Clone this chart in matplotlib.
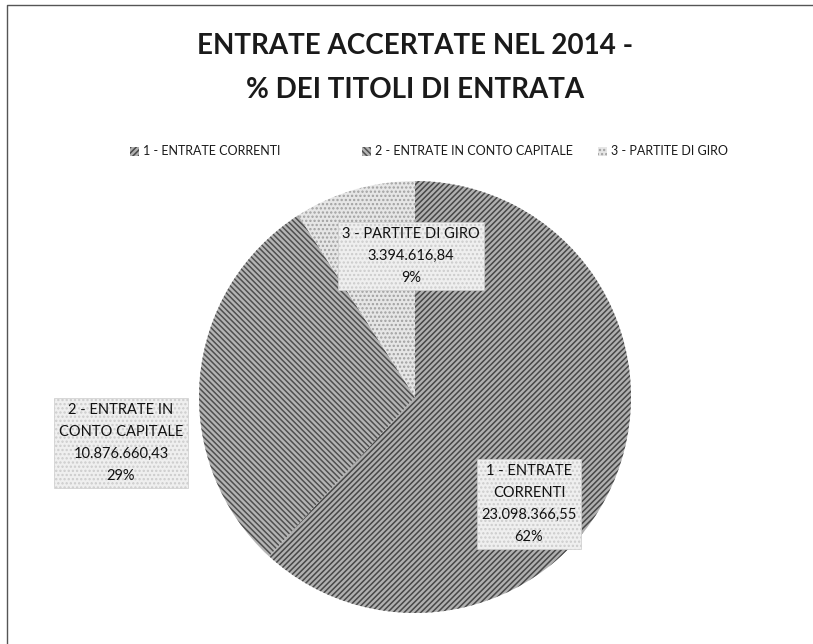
import numpy as np
import matplotlib
matplotlib.use('Agg')
import matplotlib.pyplot as plt
from matplotlib.patches import Rectangle

plt.rcParams['font.family'] = ['Lato', 'DejaVu Sans']
plt.rcParams['hatch.linewidth'] = 1.1

TITLE = 'ENTRATE ACCERTATE NEL 2014 -\n% DEI TITOLI DI ENTRATA'
labels = ['1 - ENTRATE CORRENTI', '2 - ENTRATE IN CONTO CAPITALE', '3 - PARTITE DI GIRO']
box_labels = ['1 - ENTRATE\nCORRENTI', '2 - ENTRATE IN\nCONTO CAPITALE', '3 - PARTITE DI GIRO']
values = [23098366.55, 10876660.43, 3394616.84]
value_txt = ['23.098.366,55', '10.876.660,43', '3.394.616,84']

faces   = ['#b0b0b0', '#b4b4b4', '#e6e6e6']
hatches = ['//////', '\\\\\\\\\\\\', '....']
hcols   = ['#474747', '#4f4f4f', '#a0a0a0']

W, H = 813, 644
fig = plt.figure(figsize=(W / 100, H / 100), dpi=100)
ax = fig.add_axes([0, 0, 1, 1])

cx, cy, r = 415, H - 397, 216
wedges, _ = ax.pie(values, startangle=90, counterclock=False,
                   center=(cx, cy), radius=r, frame=True)
for w, fc, h, hc in zip(wedges, faces, hatches, hcols):
    w.set_facecolor(fc)
    w.set_hatch(h)
    w.set_edgecolor(hc)
    w.set_linewidth(0)
ax.set_xlim(0, W); ax.set_ylim(0, H)
ax.set_aspect('equal'); ax.axis('off')

# scan frame (left + top only visible)
ax.plot([7, 7, 812], [0, H - 5, H - 5], color='#555555', lw=1.0)

total = sum(values)
pos = [(529, H - 504), (121, H - 443), (411, H - 256)]
for (x, y), bl, vt, v in zip(pos, box_labels, value_txt, values):
    ax.text(x, y, f'{bl}\n{vt}\n{v / total:.0%}', ha='center', va='center',
            fontsize=10.5, linespacing=1.75, color='#111111',
            bbox=dict(boxstyle='square,pad=0.3', facecolor='#efefef',
                      edgecolor='#cccccc', linewidth=0.5, hatch='....'))

ax.text(415, H - 68, TITLE, ha='center', va='center', fontsize=20,
        fontweight='bold', linespacing=1.85, color='#1a1a1a')

# legend row
leg_x = [130, 362, 598]
for lx, lab, fc, h, hc in zip(leg_x, labels, faces, hatches, hcols):
    ax.add_patch(Rectangle((lx, H - 156), 9, 9, facecolor=fc, hatch=h,
                           edgecolor=hc, linewidth=0))
    ax.text(lx + 13, H - 151, lab, ha='left', va='center', fontsize=9,
            color='#1a1a1a')

fig.savefig('out.png', dpi=100)
